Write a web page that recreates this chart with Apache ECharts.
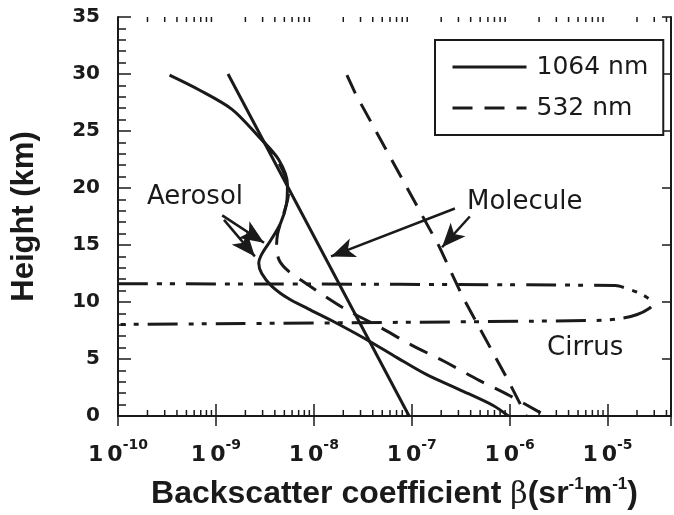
<!DOCTYPE html>
<html>
<head>
<meta charset="utf-8">
<script src="https://cdn.jsdelivr.net/npm/echarts@6/dist/echarts.min.js"></script>
<style>
    html, body { margin: 0; padding: 0; background: #fff; }
    #chart { width: 674px; height: 515px; }
</style>
</head>
<body>
<div id="chart"></div>
<script>
// 高度 (km) 与后向散射系数 β (sr^-1 m^-1)
const molec1064Height = [30, 0]
const molec1064Beta = [1.33e-9, 9.4e-8]

const molec532Height = [29.9, 28.2, 14.9, 10.6, 7.7, 3.1, 0]
const molec532Beta = [2.18e-8, 2.69e-8, 1.90e-7, 3.25e-7, 4.94e-7, 9.7e-7, 1.48e-6]

const aero1064Height = [29.9, 28.6, 26.9, 24.5, 22.5, 20.3, 18.6, 16.9, 15.4, 14.2, 13.4, 12.5, 11.4, 10.3, 9.4, 8.4, 6.8, 5.1, 3.6, 2.3, 0.9, 0]
const aero1064Beta = [3.36e-10, 6.76e-10, 1.46e-9, 2.74e-9, 4.37e-9, 5.38e-9, 5.26e-9, 4.57e-9, 3.62e-9, 2.94e-9, 2.74e-9, 2.94e-9, 3.71e-9, 5.51e-9, 8.77e-9, 1.50e-8, 3.31e-8, 7.14e-8, 1.44e-7, 3.10e-7, 6.86e-7, 9.7e-7]

const aero532Height = [24.4, 22.8, 21.2, 19.5, 17.7, 16.0, 14.7, 13.6, 12.7, 11.9, 9.4, 7.9, 6.2, 4.8, 3.1, 1.8, 0]
const aero532Beta = [2.86e-9, 3.97e-9, 5.01e-9, 5.51e-9, 4.90e-9, 4.27e-9, 4.16e-9, 4.47e-9, 5.51e-9, 7.45e-9, 2.08e-8, 4.49e-8, 1.01e-7, 2.14e-7, 4.94e-7, 9.95e-7, 2.36e-6]

// 卷云：上边缘 -> 右端回环 -> 下边缘
const cirrusHeight = [11.6, 11.45, 11.17, 10.74, 10.21, 9.86, 9.43, 8.90, 8.55, 8.38, 8.03]
const cirrusBeta = [1e-10, 1.205e-5, 1.59e-5, 2.16e-5, 2.72e-5, 2.92e-5, 2.66e-5, 2.01e-5, 1.355e-5, 7.57e-6, 1e-10]

// 坐标轴
const xMin = 1e-10
const xMax = 4.45e-5
const yTicks = [0, 5, 10, 15, 20, 25, 30, 35]

// 箭头（数据坐标：[β, 高度]）
const aerosolArrows = [
    [[1.16e-9, 17.6], [3.1e-9, 15.2]],
    [[1.21e-9, 17.2], [2.5e-9, 14.0]]
]
const moleculeArrows = [
    [[2.76e-7, 18.2], [1.50e-8, 14.0]],
    [[3.92e-7, 17.5], [2.04e-7, 14.8]]
]

const ink = '#1a1a1a'
const pairs = (xs, ys) => xs.map((x, i) => [x, ys[i]])

// 对数轴的次刻度位置（2..9 × 10^n）
const minorTicks = []
for (let e = -10; e <= -5; e++) {
    for (let k = 2; k <= 9; k++) {
        const v = k * Math.pow(10, e)
        if (v < xMax) minorTicks.push([v, 0])
    }
}

const chart = echarts.init(document.getElementById('chart'))

const arrowLine = (list) => ({
    silent: true,
    animation: false,
    symbol: ['none', 'arrow'],
    symbolSize: [15, 24],
    label: { show: false },
    lineStyle: { color: ink, width: 2.5, type: 'solid' },
    itemStyle: { color: ink },
    data: list.map(a => [{ coord: a[0] }, { coord: a[1] }])
})

const option = {
    animation: false,
    backgroundColor: '#fff',
    grid: { left: 118, right: -2, top: 17, bottom: 97 },
    legend: {
        data: ['1064 nm', '532 nm'],
        orient: 'vertical',
        left: 435,
        top: 40,
        backgroundColor: '#fff',
        borderColor: ink,
        borderWidth: 2,
        borderRadius: 0,
        padding: [13, 15, 13, 16],
        itemWidth: 74,
        itemHeight: 4,
        itemGap: 13,
        selectedMode: false,
        itemStyle: { color: 'rgba(0,0,0,0)', borderWidth: 0 },
        lineStyle: { width: 3 },
        textStyle: {
            fontFamily: 'DejaVu Sans',
            fontSize: 25,
            color: ink,
            lineHeight: 28,
            padding: [0, 0, 0, 5]
        }
    },
    xAxis: [
        {
            type: 'log',
            logBase: 10,
            min: xMin,
            max: xMax,
            position: 'bottom',
            name: '{t|Backscatter coefficient }{g|β}{t|(sr}{s|-1}{t|m}{s|-1}{t|)}',
            nameLocation: 'middle',
            nameGap: 60,
            nameTextStyle: {
                rich: {
                    t: { fontFamily: 'Liberation Sans', fontWeight: 'bold', fontSize: 32, color: ink, lineHeight: 34, verticalAlign: 'bottom' },
                    g: { fontFamily: 'DejaVu Serif', fontSize: 30, color: ink, lineHeight: 34, verticalAlign: 'bottom' },
                    s: { fontFamily: 'Liberation Sans', fontWeight: 'bold', fontSize: 17, color: ink, lineHeight: 17, verticalAlign: 'top' }
                }
            },
            axisLine: { show: true, lineStyle: { color: ink, width: 2 } },
            axisTick: { show: true, inside: true, length: 12, lineStyle: { color: ink, width: 1.5 } },
            splitLine: { show: false },
            axisLabel: {
                margin: 22,
                formatter: (v) => {
                    const e = Math.log10(v)
                    if (Math.abs(e - Math.round(e)) > 1e-6) return ''
                    return '{b|1}{g| }{b|0}{s|' + Math.round(e) + '}'
                },
                rich: {
                    b: { fontFamily: 'DejaVu Sans', fontWeight: 'bold', fontSize: 22, color: ink, lineHeight: 28, verticalAlign: 'bottom' },
                    g: { fontSize: 10, width: 4, lineHeight: 28, verticalAlign: 'bottom' },
                    s: { fontFamily: 'DejaVu Sans', fontWeight: 'bold', fontSize: 14, color: ink, lineHeight: 14, verticalAlign: 'top' }
                }
            }
        },
        {
            type: 'log',
            logBase: 10,
            min: xMin,
            max: xMax,
            position: 'top',
            axisLine: { show: true, lineStyle: { color: ink, width: 2 } },
            axisTick: { show: true, inside: true, length: 10, lineStyle: { color: ink, width: 1.5 } },
            axisLabel: { show: false },
            splitLine: { show: false }
        }
    ],
    yAxis: [
        {
            type: 'value',
            min: yTicks[0],
            max: yTicks[yTicks.length - 1],
            interval: 5,
            position: 'left',
            name: 'Height (km)',
            nameLocation: 'middle',
            nameGap: 78,
            nameTextStyle: { fontFamily: 'Liberation Sans', fontWeight: 'bold', fontSize: 31, color: ink },
            axisLine: { show: true, lineStyle: { color: ink, width: 2 } },
            axisTick: { show: true, inside: true, length: 13, lineStyle: { color: ink, width: 1.5 } },
            minorTick: { show: true, splitNumber: 5, length: 8, lineStyle: { color: ink, width: 1.5 } },
            splitLine: { show: false },
            axisLabel: {
                margin: 18,
                fontFamily: 'DejaVu Sans',
                fontWeight: 'bold',
                fontSize: 20,
                color: ink
            }
        },
        {
            type: 'value',
            min: yTicks[0],
            max: yTicks[yTicks.length - 1],
            interval: 5,
            position: 'right',
            axisLine: { show: true, lineStyle: { color: ink, width: 2 } },
            axisTick: { show: true, inside: true, length: 9, lineStyle: { color: ink, width: 1.5 } },
            axisLabel: { show: false },
            splitLine: { show: false }
        }
    ],
    graphic: [
        { type: 'text', x: 147, y: 197, style: { text: 'Aerosol', fontFamily: 'DejaVu Sans', fontSize: 26, fill: ink, verticalAlign: 'middle' } },
        { type: 'text', x: 467, y: 202, style: { text: 'Molecule', fontFamily: 'DejaVu Sans', fontSize: 26, fill: ink, verticalAlign: 'middle' } },
        { type: 'text', x: 547, y: 348, style: { text: 'Cirrus', fontFamily: 'DejaVu Sans', fontSize: 26, fill: ink, verticalAlign: 'middle' } }
    ],
    series: [
        {
            name: '1064 nm',
            type: 'line',
            data: pairs(molec1064Beta, molec1064Height),
            symbol: 'none',
            lineStyle: { color: ink, width: 3, type: 'solid' },
            itemStyle: { color: ink },
            markLine: arrowLine(moleculeArrows)
        },
        {
            name: '1064 nm',
            type: 'line',
            data: pairs(aero1064Beta, aero1064Height),
            symbol: 'none',
            smooth: 0.3,
            lineStyle: { color: ink, width: 3, type: 'solid' },
            itemStyle: { color: ink },
            markLine: arrowLine(aerosolArrows)
        },
        {
            name: '532 nm',
            type: 'line',
            data: pairs(molec532Beta, molec532Height),
            symbol: 'none',
            lineStyle: { color: ink, width: 3, type: [20, 12] },
            itemStyle: { color: ink }
        },
        {
            name: '532 nm',
            type: 'line',
            data: pairs(aero532Beta, aero532Height),
            symbol: 'none',
            smooth: 0.3,
            lineStyle: { color: ink, width: 3, type: [20, 12] },
            itemStyle: { color: ink }
        },
        {
            name: 'Cirrus',
            type: 'line',
            data: pairs(cirrusBeta, cirrusHeight),
            symbol: 'none',
            smooth: 0.3,
            lineStyle: { color: ink, width: 3, type: [30, 9, 5, 8, 5, 11] },
            itemStyle: { color: ink }
        },
        {
            // 对数次刻度（上下两条轴）
            type: 'custom',
            silent: true,
            data: minorTicks,
            z: 5,
            renderItem: (params, api) => {
                const x = api.coord([api.value(0), 0])[0]
                const cs = params.coordSys
                const st = { stroke: ink, lineWidth: 1.5 }
                return {
                    type: 'group',
                    children: [
                        { type: 'line', shape: { x1: x, y1: cs.y + cs.height, x2: x, y2: cs.y + cs.height - 6 }, style: st },
                        { type: 'line', shape: { x1: x, y1: cs.y, x2: x, y2: cs.y + 5 }, style: st }
                    ]
                }
            }
        }
    ]
}

chart.setOption(option)
</script>
</body>
</html>
